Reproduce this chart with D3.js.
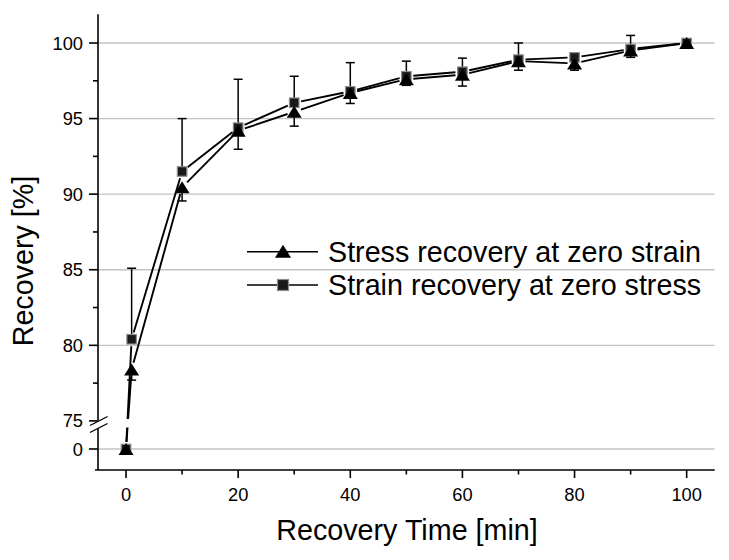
<!DOCTYPE html>
<html>
<head>
<meta charset="utf-8">
<script src="https://cdn.jsdelivr.net/npm/d3@7/dist/d3.min.js"></script>
<style>
  html, body { margin: 0; padding: 0; background: #fff; }
  svg { display: block; }
  text { font-family: "Liberation Sans", Arial, Helvetica, sans-serif; fill: #000; }
</style>
</head>
<body>
<svg id="chart" width="729" height="560"></svg>
<script>
// ---- data ----
const times = [0, 1, 10, 20, 30, 40, 50, 60, 70, 80, 90, 100];
const stressRecovery = [0, 78.4, 90.45, 94.2, 95.45, 96.7, 97.6, 97.9, 98.8, 98.65, 99.5, 100];
const stressErrLow   = [0, 0.7, 0.9, 1.23, 0.95, 0.7, 0.4, 0.75, 0.6, 0.45, 0.45, 0];
const strainRecovery = [0, 80.4, 91.5, 94.4, 96.05, 96.8, 97.8, 98.1, 98.9, 99.05, 99.6, 100];
const strainErrHigh  = [0, 4.7, 3.5, 3.2, 1.75, 1.9, 1.0, 0.9, 1.1, 0.2, 0.9, 0];
const xTicksMajor = [0, 20, 40, 60, 80, 100];
const xTicksMinor = [10, 30, 50, 70, 90];
const yTicksMajor = [75, 80, 85, 90, 95, 100];
const yTicksMinor = [77.5, 82.5, 87.5, 92.5, 97.5];
const yGrid = [80, 85, 90, 95, 100];
const lowerTicks = [0];
const legendLabels = ["Stress recovery at zero strain", "Strain recovery at zero stress"];
const xTitle = "Recovery Time [min]";
const yTitle = "Recovery [%]";

(function () {
// ---- scales ----
const svg = d3.select("#chart");
const pLeft = 98, pRight = 714.7, pBottom = 470, pTop = 14.3;
const x = d3.scaleLinear().domain([-5, 105]).range([pLeft, pRight]);
const yU = d3.scaleLinear().domain([75, 100]).range([420.9, 43]);
const yL = d3.scaleLinear().domain([-1.39, 0]).range([pBottom, 449]);
const y = v => (v >= 50 ? yU(v) : yL(v));
const breakTop = 419, breakBot = 427.5;

const font = '"Liberation Sans", Arial, Helvetica, sans-serif';
const titleSize = 28.7;

// ---- gridlines ----
const grid = svg.append("g").attr("stroke", "#c4c4c4").attr("stroke-width", 1.3);
yGrid.forEach(v => grid.append("line").attr("x1", pLeft).attr("x2", pRight).attr("y1", yU(v)).attr("y2", yU(v)));
lowerTicks.forEach(v => grid.append("line").attr("x1", pLeft).attr("x2", pRight).attr("y1", yL(v)).attr("y2", yL(v)));

// ---- series ----
const stressPts = times.map((t, i) => ({t, v: stressRecovery[i], e: stressErrLow[i]}));
const strainPts = times.map((t, i) => ({t, v: strainRecovery[i], e: strainErrHigh[i]}));

function drawLine(pts, gap) {
  const g = svg.append("g").attr("stroke", "#000").attr("stroke-width", 1.9).attr("fill", "none");
  for (let i = 0; i < pts.length - 1; i++) {
    const x1 = x(pts[i].t), y1 = y(pts[i].v), x2 = x(pts[i + 1].t), y2 = y(pts[i + 1].v);
    const dx = x2 - x1, dy = y2 - y1, len = Math.hypot(dx, dy);
    if (len <= 2 * gap) continue;
    const ux = dx / len, uy = dy / len;
    g.append("line")
      .attr("x1", x1 + ux * gap).attr("y1", y1 + uy * gap)
      .attr("x2", x2 - ux * gap).attr("y2", y2 - uy * gap);
  }
}
drawLine(strainPts, 7);
drawLine(stressPts, 7);

// break gap in data area
svg.append("rect").attr("x", pLeft + 1).attr("y", breakTop).attr("width", pRight - pLeft - 1)
  .attr("height", breakBot - breakTop).attr("fill", "#fff");

// ---- error bars ----
const eb = svg.append("g").attr("stroke", "#000").attr("stroke-width", 1.5);
strainPts.forEach(d => {
  if (d.e <= 0) return;
  const cx = x(d.t), y0 = y(d.v), y1 = y(d.v + d.e);
  eb.append("line").attr("x1", cx).attr("x2", cx).attr("y1", y0).attr("y2", y1);
  eb.append("line").attr("x1", cx - 4.5).attr("x2", cx + 4.5).attr("y1", y1).attr("y2", y1);
});
stressPts.forEach(d => {
  if (d.e <= 0) return;
  const cx = x(d.t), y0 = y(d.v), y1 = y(d.v - d.e);
  eb.append("line").attr("x1", cx).attr("x2", cx).attr("y1", y0).attr("y2", y1);
  eb.append("line").attr("x1", cx - 4.5).attr("x2", cx + 4.5).attr("y1", y1).attr("y2", y1);
});

// ---- markers ----
function square(g, cx, cy, s) {
  g.append("rect").attr("x", cx - s / 2).attr("y", cy - s / 2).attr("width", s).attr("height", s)
    .attr("fill", "#1a1a1a").attr("stroke", "#8c8c8c").attr("stroke-width", 1.2);
}
function triangle(g, cx, cy, w, h) {
  g.append("path")
    .attr("d", `M${cx},${cy - h / 2}L${cx + w / 2},${cy + h / 2}L${cx - w / 2},${cy + h / 2}Z`)
    .attr("fill", "#000");
}
const mk = svg.append("g");
strainPts.forEach(d => square(mk, x(d.t), y(d.v), 9.5));
stressPts.forEach(d => triangle(mk, x(d.t), y(d.v), 15, 12));

// ---- axes ----
const ax = svg.append("g").attr("stroke", "#000").attr("stroke-width", 1.6).attr("fill", "none");
ax.append("line").attr("x1", pLeft).attr("x2", pLeft).attr("y1", pTop).attr("y2", 420.5);
ax.append("line").attr("x1", pLeft).attr("x2", pLeft).attr("y1", 428.5).attr("y2", pBottom);
ax.append("line").attr("x1", pLeft - 8).attr("y1", 425.5).attr("x2", pLeft + 9.5).attr("y2", 416.5).attr("stroke-width", 1.4);
ax.append("line").attr("x1", pLeft - 8).attr("y1", 432.5).attr("x2", pLeft + 9.5).attr("y2", 423.5).attr("stroke-width", 1.4);
ax.append("line").attr("x1", pLeft - 3).attr("x2", pRight).attr("y1", pBottom).attr("y2", pBottom);

yTicksMajor.forEach(v => ax.append("line").attr("x1", pLeft - 9).attr("x2", pLeft).attr("y1", yU(v)).attr("y2", yU(v)));
yTicksMinor.forEach(v => ax.append("line").attr("x1", pLeft - 5).attr("x2", pLeft).attr("y1", yU(v)).attr("y2", yU(v)));
lowerTicks.forEach(v => ax.append("line").attr("x1", pLeft - 9).attr("x2", pLeft).attr("y1", yL(v)).attr("y2", yL(v)));
xTicksMajor.forEach(v => ax.append("line").attr("x1", x(v)).attr("x2", x(v)).attr("y1", pBottom).attr("y2", pBottom + 8));
xTicksMinor.forEach(v => ax.append("line").attr("x1", x(v)).attr("x2", x(v)).attr("y1", pBottom).attr("y2", pBottom + 4.5));

const lbl = svg.append("g").attr("font-size", 18.3).attr("font-family", font);
yTicksMajor.forEach(v => lbl.append("text").attr("x", 83).attr("y", yU(v) + 6.5).attr("text-anchor", "end").text(v));
lowerTicks.forEach(v => lbl.append("text").attr("x", 83).attr("y", yL(v) + 6.5).attr("text-anchor", "end").text(v));
xTicksMajor.forEach(v => lbl.append("text").attr("x", x(v)).attr("y", 500.5).attr("text-anchor", "middle").text(v));

svg.append("text").attr("x", 407).attr("y", 540).attr("text-anchor", "middle")
  .attr("font-size", titleSize).attr("font-family", font).text(xTitle);
svg.append("text").attr("transform", "translate(33,261) rotate(-90)").attr("text-anchor", "middle")
  .attr("font-size", titleSize).attr("font-family", font).text(yTitle);

// ---- legend ----
const lg = svg.append("g");
const rows = [251.7, 285];
rows.forEach((ry, i) => {
  lg.append("line").attr("x1", 247).attr("x2", 318).attr("y1", ry).attr("y2", ry)
    .attr("stroke", "#000").attr("stroke-width", 1.4);
  if (i === 0) triangle(lg, 283, ry - 0.5, 16, 13);
  else square(lg, 283, ry, 11);
  lg.append("text").attr("x", 328).attr("y", ry + 10).attr("font-size", titleSize).attr("font-family", font)
    .text(legendLabels[i]);
});
})();
</script>
</body>
</html>
